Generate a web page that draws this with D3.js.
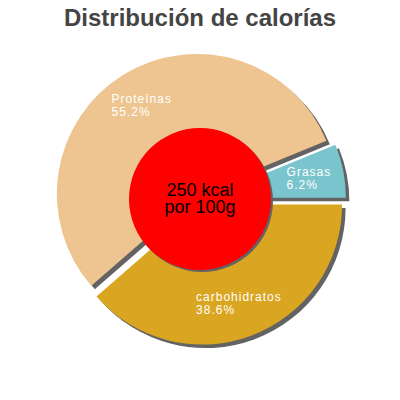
<!DOCTYPE html>
<html><head><meta charset="utf-8">
<script src="https://cdn.jsdelivr.net/npm/d3@7"></script>
<style>html,body{margin:0;padding:0;background:#fff}</style>
</head><body>
<script>
const title = "Distribución de calorías";
const categories = ["carbohidratos", "Proteínas", "Grasas"];
const values = [38.6, 55.2, 6.2];
const colors = ["#DAA520", "#EEC591", "#7AC5CD"];
const centerLines = ["250 kcal", "por 100g"];

const W = 400, H = 400, cx = 200, cy = 199, R = 140, explode = 6;
const svg = d3.select("body").append("svg").attr("width", W).attr("height", H);

svg.append("text").attr("x", W/2).attr("y", 26).attr("text-anchor", "middle")
  .attr("font-family", "Liberation Sans, Arial, sans-serif").attr("font-weight", "bold")
  .attr("font-size", 24).attr("fill", "#444").text(title);

const data = categories.map((c, i) => ({cat: c, v: values[i], color: colors[i]}));
const pie = d3.pie().value(d => d.v).sort(null).startAngle(Math.PI/2).endAngle(Math.PI/2 + 2*Math.PI);
const arcs = pie(data);
const arc = d3.arc().innerRadius(0).outerRadius(R);

const g = svg.append("g").attr("transform", `translate(${cx},${cy})`);
function off(d){ const a = (d.startAngle + d.endAngle)/2; return [Math.sin(a)*explode, -Math.cos(a)*explode]; }

// shadows
g.selectAll("path.sh").data(arcs).join("path").attr("class","sh")
  .attr("d", arc).attr("fill", "#636363")
  .attr("transform", d => { const o = off(d); return `translate(${o[0]+3.5},${o[1]+3.5})`; });
// slices
g.selectAll("path.sl").data(arcs).join("path").attr("class","sl")
  .attr("d", arc).attr("fill", d => d.data.color)
  .attr("transform", d => { const o = off(d); return `translate(${o[0]},${o[1]})`; });

// labels
const labelR = 105;
arcs.forEach(d => {
  const a = (d.startAngle + d.endAngle)/2, o = off(d);
  const px = Math.sin(a)*labelR + o[0], py = -Math.cos(a)*labelR + o[1];
  const t = g.append("text").attr("font-family", "Liberation Sans, Arial, sans-serif")
    .attr("font-size", 12).attr("letter-spacing", 1).attr("fill", "#fff");
  const l1 = t.append("tspan").text(d.data.cat);
  const l2 = t.append("tspan").text(d.data.v.toFixed(1) + "%");
  const w = Math.max(l1.node().getComputedTextLength(), l2.node().getComputedTextLength());
  const x0 = px - w/2;
  l1.attr("x", x0).attr("y", py - 2);
  l2.attr("x", x0).attr("y", py + 11);
});

// center
g.append("circle").attr("r", 71).attr("cx", 2).attr("cy", 2).attr("fill", "#636363");
g.append("circle").attr("r", 71).attr("fill", "#FF0000");
const ct = g.append("text").attr("text-anchor", "middle")
  .attr("font-family", "Liberation Sans, Arial, sans-serif").attr("font-size", 18).attr("fill", "#000");
centerLines.forEach((s, i) => ct.append("tspan").attr("x", 0).attr("y", -3 + i*17).text(s));
</script>
</body></html>
